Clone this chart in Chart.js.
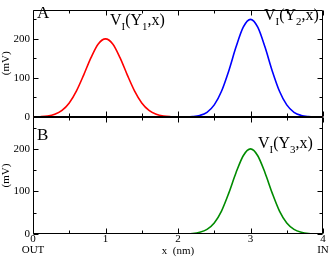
<!DOCTYPE html>
<html>
<head>
<meta charset="utf-8">
<script src="https://cdn.jsdelivr.net/npm/chart.js@4.4.0/dist/chart.umd.min.js"></script>
<style>
  body { margin: 0; background: #fff; }
  #wrap { position: relative; width: 332px; height: 259px; }
  #wrap canvas { position: absolute; left: 0; top: 0; }
</style>
</head>
<body>
<div id="wrap">
  <canvas id="panelA" width="332" height="259"></canvas>
  <canvas id="panelB" width="332" height="259"></canvas>
</div>
<script>
// x positions (nm)
var xNm = [0, 0.1, 0.2, 0.3, 0.4, 0.5, 0.6, 0.7, 0.8, 0.9,
           1, 1.1, 1.2, 1.3, 1.4, 1.5, 1.6, 1.7, 1.8, 1.9,
           2, 2.1, 2.2, 2.3, 2.4, 2.5, 2.6, 2.7, 2.8, 2.9,
           3, 3.1, 3.2, 3.3, 3.4, 3.5, 3.6, 3.7, 3.8, 3.9, 4];

// V_I(Y1,x) in mV (red, panel A)
var vY1 = [0.2, 0.8, 2.5, 7, 17, 36, 67, 108, 152, 187,
           200, 187, 152, 108, 67, 36, 17, 7, 2.5, 0.8,
           0.2, 0, 0, 0, 0, 0, 0, 0, 0, 0,
           0, 0, 0, 0, 0, 0, 0, 0, 0, 0, 0];

// V_I(Y2,x) in mV (blue, panel A)
var vY2 = [0, 0, 0, 0, 0, 0, 0, 0, 0, 0,
           0, 0, 0, 0, 0, 0, 0, 0, 0, 0,
           0, 0.3, 1.2, 4, 12, 31, 66, 118, 179, 230,
           250, 230, 179, 118, 66, 31, 12, 4, 1.2, 0.3, 0];

// V_I(Y3,x) in mV (green, panel B)
var vY3 = [0, 0, 0, 0, 0, 0, 0, 0, 0, 0,
           0, 0, 0, 0, 0, 0, 0, 0, 0, 0,
           0, 0.3, 1, 4, 11, 26, 54, 96, 144, 184,
           200, 184, 144, 96, 54, 26, 11, 4, 1, 0.3, 0];

var xMajor = [0, 1, 2, 3, 4];
var xMinor = [0.5, 1.5, 2.5, 3.5];
var yMajor = [0, 100, 200];
var yMinor = [50, 150, 250];

var serif = '"Liberation Serif", "Times New Roman", serif';

function pts(vals) {
  return xNm.map(function (x, i) { return { x: x, y: vals[i] }; });
}

function lineSet(vals, color) {
  return {
    data: pts(vals),
    borderColor: color,
    borderWidth: 1.6,
    pointRadius: 0,
    fill: false,
    cubicInterpolationMode: 'monotone'
  };
}

// frame with inward ticks on all four sides
var frameTicks = {
  id: 'frameTicks',
  afterDatasetsDraw: function (chart) {
    var ctx = chart.ctx, a = chart.chartArea;
    var xs = chart.scales.x, ys = chart.scales.y;
    var L = Math.round(a.left) + 0.5, R = Math.round(a.right) - 0.5;
    var T = Math.round(a.top) + 0.5, B = Math.round(a.bottom) - 0.5;
    ctx.save();
    ctx.strokeStyle = '#000';
    ctx.lineWidth = 1;
    ctx.beginPath();
    ctx.rect(L, T, R - L, B - T);
    function tx(v, len) {
      var p = Math.round(xs.getPixelForValue(v)) + 0.5;
      ctx.moveTo(p, B); ctx.lineTo(p, B - len);
      ctx.moveTo(p, T); ctx.lineTo(p, T + len);
    }
    function ty(v, len) {
      var p = Math.round(ys.getPixelForValue(v)) + 0.5;
      ctx.moveTo(L, p); ctx.lineTo(L + len, p);
      ctx.moveTo(R, p); ctx.lineTo(R - len, p);
    }
    xMajor.forEach(function (v) { tx(v, 5); });
    xMinor.forEach(function (v) { tx(v, 3); });
    yMajor.forEach(function (v) { ty(v, 5); });
    yMinor.forEach(function (v) { ty(v, 3); });
    ctx.stroke();
    ctx.restore();
  }
};

// panel letter and curve names, with subscripts
function textPlugin(items) {
  return {
    id: 'panelText',
    afterDraw: function (chart) {
      var ctx = chart.ctx;
      ctx.save();
      ctx.fillStyle = '#000';
      ctx.textBaseline = 'alphabetic';
      ctx.textAlign = 'left';
      items.forEach(function (it) {
        var x = it.x;
        it.parts.forEach(function (p) {
          var sub = p[1] === 1;
          ctx.font = (sub ? it.size * 0.68 : it.size) + 'px ' + serif;
          ctx.fillText(p[0], x, it.y + (sub ? it.size * 0.3 : 0));
          x += ctx.measureText(p[0]).width;
        });
      });
      ctx.restore();
    }
  };
}

function yAxis() {
  return {
    type: 'linear',
    min: 0,
    max: 275,
    afterFit: function (s) { s.width = 33; },
    grid: { display: false, drawTicks: false },
    border: { display: false },
    ticks: {
      stepSize: 100,
      includeBounds: false,
      padding: 3,
      color: '#000',
      font: { family: serif, size: 11 }
    },
    title: {
      display: true,
      text: '(mV)',
      color: '#000',
      padding: 0,
      font: { family: serif, size: 11, lineHeight: 1.2 }
    }
  };
}

var chartA = new Chart(document.getElementById('panelA'), {
  type: 'line',
  data: { datasets: [lineSet(vY1, 'rgb(255,0,0)'), lineSet(vY2, 'rgb(0,0,255)')] },
  options: {
    responsive: false,
    animation: false,
    devicePixelRatio: 1,
    layout: { padding: { left: 0, right: 9, top: 1, bottom: 142 } },
    plugins: { legend: { display: false }, tooltip: { enabled: false } },
    scales: {
      x: { type: 'linear', min: 0, max: 4, display: false },
      y: yAxis()
    }
  },
  plugins: [frameTicks, textPlugin([
    { x: 37, y: 18, size: 17, parts: [['A', 0]] },
    { x: 110, y: 25, size: 16, parts: [['V', 0], ['I', 1], ['(Y', 0], ['1', 1], [',x)', 0]] },
    { x: 264, y: 20, size: 16, parts: [['V', 0], ['I', 1], ['(Y', 0], ['2', 1], [',x)', 0]] }
  ])]
});

var chartB = new Chart(document.getElementById('panelB'), {
  type: 'line',
  data: { datasets: [lineSet(vY3, 'rgb(0,139,0)')] },
  options: {
    responsive: false,
    animation: false,
    devicePixelRatio: 1,
    layout: { padding: { left: 0, right: 9, top: 117, bottom: 0 } },
    plugins: { legend: { display: false }, tooltip: { enabled: false } },
    scales: {
      x: {
        type: 'linear',
        min: 0,
        max: 4,
        afterFit: function (s) { s.height = 25; },
        afterBuildTicks: function (s) {
          s.ticks = xMajor.map(function (v) { return { value: v }; });
        },
        grid: { display: false, drawTicks: false },
        border: { display: false },
        ticks: {
          padding: 0,
          maxRotation: 0,
          autoSkip: false,
          color: '#000',
          font: { family: serif, size: 11, lineHeight: 1 },
          callback: function (v) {
            if (v === 0) return ['0', 'OUT'];
            if (v === 4) return ['4', 'IN'];
            return String(v);
          }
        },
        title: {
          display: true,
          text: 'x  (nm)',
          color: '#000',
          padding: { top: 0, bottom: 2 },
          font: { family: serif, size: 11, lineHeight: 1 }
        }
      },
      y: yAxis()
    }
  },
  plugins: [frameTicks, textPlugin([
    { x: 37, y: 140, size: 17, parts: [['B', 0]] },
    { x: 258, y: 148, size: 16, parts: [['V', 0], ['I', 1], ['(Y', 0], ['3', 1], [',x)', 0]] }
  ])]
});
</script>
</body>
</html>
